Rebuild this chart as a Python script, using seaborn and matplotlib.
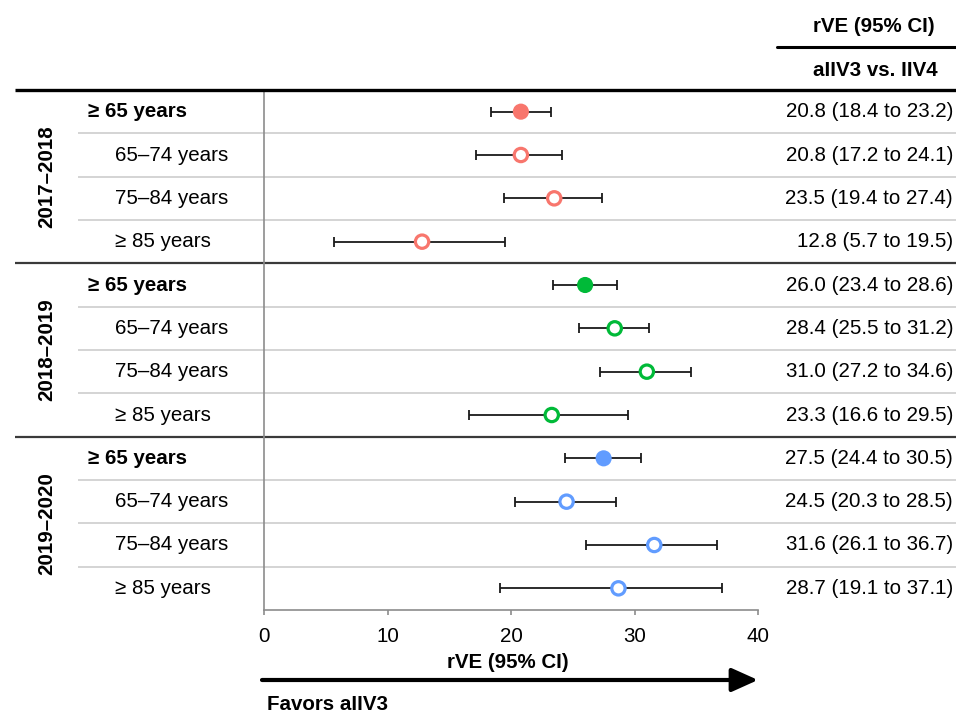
import numpy as np
import pandas as pd
import matplotlib
matplotlib.use("Agg")
import matplotlib.pyplot as plt
import matplotlib.transforms as mtransforms
from matplotlib.lines import Line2D
import seaborn as sns

# ---------------- data ----------------
seasons = ["2017–2018", "2018–2019", "2019–2020"]
subgroups = ["≥ 65 years", "65–74 years", "75–84 years", "≥ 85 years"]
rve_2017 = [20.8, 20.8, 23.5, 12.8]
lo_2017 = [18.4, 17.2, 19.4, 5.7]
hi_2017 = [23.2, 24.1, 27.4, 19.5]
rve_2018 = [26.0, 28.4, 31.0, 23.3]
lo_2018 = [23.4, 25.5, 27.2, 16.6]
hi_2018 = [28.6, 31.2, 34.6, 29.5]
rve_2019 = [27.5, 24.5, 31.6, 28.7]
lo_2019 = [24.4, 20.3, 26.1, 19.1]
hi_2019 = [30.5, 28.5, 36.7, 37.1]
ci_labels = [
    "20.8 (18.4 to 23.2)", "20.8 (17.2 to 24.1)", "23.5 (19.4 to 27.4)", "12.8 (5.7 to 19.5)",
    "26.0 (23.4 to 28.6)", "28.4 (25.5 to 31.2)", "31.0 (27.2 to 34.6)", "23.3 (16.6 to 29.5)",
    "27.5 (24.4 to 30.5)", "24.5 (20.3 to 28.5)", "31.6 (26.1 to 36.7)", "28.7 (19.1 to 37.1)",
]
x_ticks = [0, 10, 20, 30, 40]
palette = {"2017–2018": "#F8766D", "2018–2019": "#00BA38", "2019–2020": "#619CFF"}

rows = []
for si, (s, r, l, h) in enumerate(zip(seasons, [rve_2017, rve_2018, rve_2019],
                                       [lo_2017, lo_2018, lo_2019],
                                       [hi_2017, hi_2018, hi_2019])):
    for gi, g in enumerate(subgroups):
        rows.append(dict(season=s, group=g, rve=r[gi], lo=l[gi], hi=h[gi],
                         row=si * 4 + gi, overall=(gi == 0)))
df = pd.DataFrame(rows)
df["label"] = ci_labels

# ---------------- figure ----------------
sns.set_theme(style="white")
plt.rcParams["font.family"] = ["Liberation Sans", "DejaVu Sans"]
plt.rcParams["text.color"] = "black"
plt.rcParams["axes.labelcolor"] = "black"
plt.rcParams["xtick.color"] = "black"
FS = 14.8

W, H = 956, 713
fig = plt.figure(figsize=(W / 100, H / 100), dpi=100)
fig.patch.set_facecolor("white")

def fx(px):
    return px / W

def fy(py):
    return 1 - py / H

ax_left, ax_right, ax_top, ax_bot = 264, 758, 90, 610
ax = fig.add_axes([fx(ax_left), fy(ax_bot), (ax_right - ax_left) / W, (ax_bot - ax_top) / H])
ax.set_facecolor("white")

# error bars
ax.errorbar(df["rve"], df["row"], xerr=[df["rve"] - df["lo"], df["hi"] - df["rve"]],
            fmt="none", ecolor="#1a1a1a", elinewidth=1.3, capsize=3.5, capthick=1.3, zorder=2)

# filled markers (overall) and open markers (subgroups)
sns.scatterplot(data=df[df["overall"]], x="rve", y="row", hue="season", palette=palette,
                s=135, linewidth=0, legend=False, ax=ax, zorder=3)
sns.scatterplot(data=df[~df["overall"]], x="rve", y="row", hue="season", palette=palette,
                s=92, linewidth=2.3, legend=False, ax=ax, zorder=3)
coll = ax.collections[-1]
fc = coll.get_facecolors()
coll.set_edgecolors(fc)
coll.set_facecolors("white")

ax.set_xlim(0, 40)
ax.set_ylim(11.5, -0.5)
ax.set_xticks(x_ticks)
ax.set_yticks([])
ax.set_ylabel("")
for sp in ["top", "right"]:
    ax.spines[sp].set_visible(False)
for sp in ["left", "bottom"]:
    ax.spines[sp].set_color("#8c8c8c")
    ax.spines[sp].set_linewidth(1.2)
ax.tick_params(axis="x", bottom=True, direction="out", length=3.8, width=1.2,
               color="#8c8c8c", labelsize=FS, labelcolor="black", pad=8.5)

ax.set_xlabel("rVE (95% CI)", fontsize=FS, fontweight="bold", color="black")
ax.xaxis.set_label_coords((508 - ax_left) / (ax_right - ax_left), -(663 - ax_bot) / (ax_bot - ax_top))
ax.xaxis.label.set_va("center")

# ---------------- table lines ----------------
blend = mtransforms.blended_transform_factory(fig.transFigure, ax.transData)
ax.plot([fx(15), fx(956)], [-0.5, -0.5], transform=blend, color="black", lw=2.4,
        clip_on=False, zorder=5, solid_capstyle="butt")
for y in [3.5, 7.5]:
    ax.plot([fx(15), fx(956)], [y, y], transform=blend, color="#3a3a3a", lw=1.6,
            clip_on=False, zorder=1, solid_capstyle="butt")
for base in [0, 4, 8]:
    for k in [0.5, 1.5, 2.5]:
        ax.plot([fx(78), fx(956)], [base + k, base + k], transform=blend, color="#d4d4d4",
                lw=1.4, clip_on=False, zorder=0.5, solid_capstyle="butt")

# header
fig.add_artist(Line2D([fx(777), fx(956)], [fy(47), fy(47)], color="black", lw=2.2))
fig.text(fx(874), fy(27), "rVE (95% CI)", fontsize=FS, fontweight="bold", ha="center", va="center")
fig.text(fx(875), fy(71), "aIIV3 vs. IIV4", fontsize=FS, fontweight="bold", ha="center", va="center")

# row labels + values
for _, r in df.iterrows():
    if r["overall"]:
        ax.text(fx(88), r["row"], r["group"], transform=blend, fontsize=FS, fontweight="bold",
                ha="left", va="center")
    else:
        ax.text(fx(115), r["row"], r["group"], transform=blend, fontsize=FS,
                ha="left", va="center")
    ax.text(fx(953), r["row"], r["label"], transform=blend, fontsize=FS, ha="right", va="center")

# season labels
for si, s in enumerate(seasons):
    ax.text(fx(47), si * 4 + 1.5, s, transform=blend, fontsize=FS, fontweight="bold",
            rotation=90, ha="center", va="center")

# favors arrow
ax.annotate("", xy=(fx(758), fy(680)), xytext=(fx(262), fy(680)),
            xycoords="figure fraction", textcoords="figure fraction",
            arrowprops=dict(arrowstyle="-|>,head_length=1.0,head_width=0.45",
                            mutation_scale=16, lw=3, color="black",
                            shrinkA=0, shrinkB=0))
fig.text(fx(267), fy(704), "Favors aIIV3", fontsize=FS, fontweight="bold", ha="left", va="center")

fig.savefig("out.png", dpi=100, facecolor="white")
